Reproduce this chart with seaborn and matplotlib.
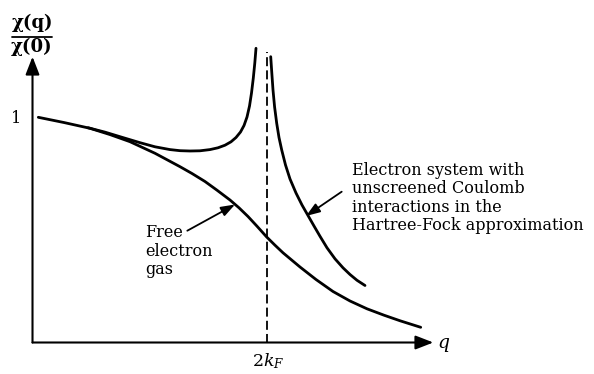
import matplotlib
matplotlib.use("Agg")
import matplotlib.pyplot as plt
import seaborn as sns
import pandas as pd

# Static susceptibility chi(q)/chi(0) versus q (q in units of 2k_F)
free_q = [0.0248, 0.1358, 0.2455, 0.3309, 0.4163, 0.5231, 0.6298, 0.6810, 0.7366, 0.7878,
          0.8433, 0.8817, 0.9202, 0.9586, 1.0000, 1.0354, 1.0696, 1.1422, 1.2105, 1.2831,
          1.3557, 1.4283, 1.5009, 1.5696, 1.6576]
free_chi = [1.0031, 0.9795, 0.9541, 0.9261, 0.8944, 0.8428, 0.7831, 0.7528, 0.7171, 0.6784,
            0.6347, 0.6000, 0.5612, 0.5180, 0.4699, 0.4334, 0.3996, 0.3363, 0.2806, 0.2272,
            0.1849, 0.1501, 0.1216, 0.0967, 0.0677]

hf_left_q = [0.2370, 0.3096, 0.3822, 0.4590, 0.5231, 0.5871, 0.6298, 0.6725, 0.7152, 0.7579,
             0.7920, 0.8219, 0.8476, 0.8689, 0.8881, 0.9031, 0.9159, 0.9266, 0.9351, 0.9428,
             0.9492, 0.9543]
hf_left_chi = [0.9566, 0.9370, 0.9140, 0.8900, 0.8717, 0.8593, 0.8544, 0.8530, 0.8539, 0.8593,
               0.8673, 0.8788, 0.8940, 0.9131, 0.9376, 0.9666, 1.0045, 1.0535, 1.1114, 1.1782,
               1.2454, 1.3105]

hf_right_q = [1.0171, 1.0218, 1.0269, 1.0337, 1.0427, 1.0525, 1.0641, 1.0803, 1.0995, 1.1251,
              1.1507, 1.1763, 1.2020, 1.2276, 1.2575, 1.2916, 1.3258, 1.3557, 1.3856, 1.4197]
hf_right_chi = [1.2731, 1.2004, 1.1247, 1.0490, 0.9764, 0.9131, 0.8575, 0.7906, 0.7283, 0.6659,
                0.6125, 0.5657, 0.5189, 0.4731, 0.4218, 0.3728, 0.3327, 0.3029, 0.2771, 0.2539]

two_kf = 1.0
y_tick_labels = ["1"]
x_tick_labels = [r"$2k_F$"]

# arrow annotations: (tail, head) in data units
free_arrow = [(0.6610, 0.4980), (0.8647, 0.6147)]
hf_arrow = [(1.3202, 0.6717), (1.1678, 0.5635)]

W, H = 594, 374
sns.set_theme(style="white")
plt.rcParams["mathtext.fontset"] = "dejavuserif"
plt.rcParams["text.color"] = "black"
serif = ["DejaVu Serif"]

fig = plt.figure(figsize=(W / 100, H / 100), dpi=100)
ax = fig.add_axes([0, 0, 1, 1])
ax.set_xlim(-0.1388, 2.3975)
ax.set_ylim(-0.1403, 1.5256)
ax.axis("off")

lw = 2.0
df_free = pd.DataFrame({"q": free_q, "chi": free_chi})
df_hl = pd.DataFrame({"q": hf_left_q, "chi": hf_left_chi})
df_hr = pd.DataFrame({"q": hf_right_q, "chi": hf_right_chi})
for d in (df_free, df_hl, df_hr):
    sns.lineplot(data=d, x="q", y="chi", ax=ax, sort=False, color="black",
                 lw=lw, estimator=None, legend=False, solid_joinstyle="round")

# dashed line at 2k_F
ax.plot([two_kf, two_kf], [0, 1.295], color="black", lw=1.3, ls=(0, (5, 2.3)))

# axes with arrowheads
axis_kw = dict(arrowstyle="-|>,head_length=0.9,head_width=0.35", color="black", lw=1.5,
               shrinkA=0, shrinkB=0)
ax.annotate("", xy=(1.7114, 0), xytext=(0, 0), arrowprops=axis_kw)
ax.annotate("", xy=(0, 1.2731), xytext=(0, 0), arrowprops=axis_kw)

# pointer arrows
ptr_kw = dict(arrowstyle="-|>,head_length=0.7,head_width=0.25", color="black", lw=1.3,
              shrinkA=0, shrinkB=0)
for tail, head in (free_arrow, hf_arrow):
    ax.annotate("", xy=head, xytext=tail, arrowprops=ptr_kw)

def fx(px):
    return px / W

def fy(py):
    return 1 - py / H

fs = 11.5
fig.text(fx(16), fy(119), y_tick_labels[0], family=serif, fontsize=fs, ha="center", va="center")
ax.text(two_kf + 0.008, -0.085, x_tick_labels[0], fontsize=12.5, ha="center", va="center")
fig.text(fx(444), fy(344), r"$q$", fontsize=13.5, ha="center", va="center")

# y-axis label as a fraction
fig.text(fx(32), fy(23), "χ(q)", family=serif, fontsize=13, fontweight="bold",
         ha="center", va="center")
fig.text(fx(32), fy(47), "χ(0)", family=serif, fontsize=13, fontweight="bold",
         ha="center", va="center")
ax.plot([-0.088, 0.085], [1.361, 1.361], color="black", lw=1.3, clip_on=False)

fig.text(fx(145), fy(224), "Free\nelectron\ngas", family=serif, fontsize=fs,
         ha="left", va="top", linespacing=1.12)
fig.text(fx(352.5), fy(162), "Electron system with\nunscreened Coulomb\ninteractions in the\nHartree-Fock approximation",
         family=serif, fontsize=fs, ha="left", va="top", linespacing=1.1)

fig.savefig("out.png", dpi=100, facecolor="white")
